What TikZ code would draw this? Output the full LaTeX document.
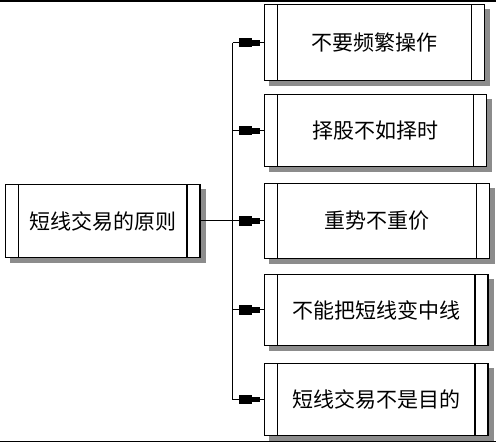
\documentclass[tikz,border=0pt]{standalone}
\usepackage{fontspec}
\newfontfamily\cjk{Noto Sans CJK SC}
\usetikzlibrary{backgrounds,decorations.markings}
\definecolor{shadowgray}{rgb}{0.55,0.55,0.55}

\tikzset{
  rulebox/.style={draw, line width=1.2pt, fill=white, inner sep=0pt,
    font=\cjk\fontsize{21}{25}\selectfont,
    path picture={
      \draw[line width=1.2pt]
        ([xshift=13pt]path picture bounding box.north west) --
        ([xshift=13pt]path picture bounding box.south west)
        ([xshift=-13pt]path picture bounding box.north east) --
        ([xshift=-13pt]path picture bounding box.south east);}},
  boxshadow/.style={fill=shadowgray},
  plug/.style={line width=1pt, postaction={decorate},
    decoration={markings, mark=at position -4pt with {
      \fill (-8pt,-2.8pt) rectangle (0pt,2.8pt);
      \fill (-21pt,-4.6pt) rectangle (-8pt,4.6pt);}}}
}

\begin{document}
\begin{tikzpicture}[x=1pt,y=1pt]
  \useasboundingbox (0,0) rectangle (496,-443);
  % frame lines
  \draw[line width=1.6pt] (0,-0.8) -- (496,-0.8);
  \draw[line width=1.6pt] (0,-441.6) -- (496,-441.6);

  % root box
  \node[rulebox, minimum width=194.7pt, minimum height=72.7pt] (root) at (102.6,-221) {短线交易的原则};

  % rule boxes
  \node[rulebox, anchor=west, minimum width=220pt, minimum height=76pt] (b1) at (264,-42.8) {不要频繁操作};
  \node[rulebox, anchor=west, minimum width=221.7pt, minimum height=72pt] (b2) at (264,-130.8) {择股不如择时};
  \node[rulebox, anchor=west, minimum width=225pt, minimum height=74.3pt] (b3) at (264,-221) {重势不重价};
  \node[rulebox, anchor=west, minimum width=223.3pt, minimum height=71.7pt] (b4) at (264,-310) {不能把短线变中线};
  \node[rulebox, anchor=west, minimum width=223.3pt, minimum height=72.4pt] (b5) at (264,-399.6) {短线交易不是目的};

  % shadows
  \begin{scope}[on background layer]
    \foreach \b in {root, b1, b2, b3, b4, b5}
      \fill[boxshadow] ([shift={(5pt,-5pt)}]\b.south west) rectangle ([shift={(5pt,-5pt)}]\b.north east);
  \end{scope}

  % connectors
  \draw[line width=1pt] (root.east) -- ++(32pt,0) coordinate (j);
  \draw[line width=1pt] (j |- b1.west) -- (j |- b5.west);
  \foreach \b in {b1, b2, b3, b4, b5}
    \draw[plug] (j |- \b.west) -- (\b.west);
\end{tikzpicture}
\end{document}
